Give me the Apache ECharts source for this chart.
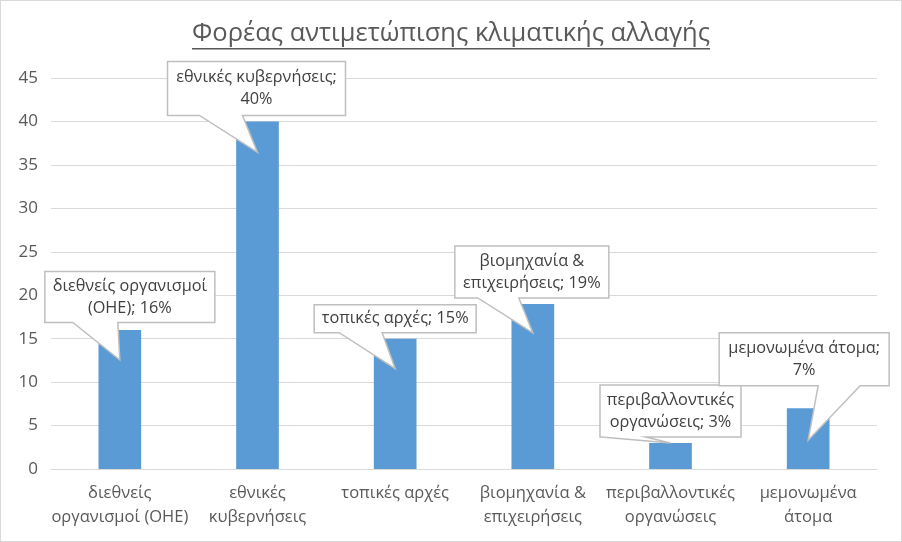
<!DOCTYPE html>
<html>
<head>
<meta charset="utf-8">
<script src="https://cdn.jsdelivr.net/npm/echarts@6/dist/echarts.min.js"></script>
<style>
html,body{margin:0;padding:0;background:#fff;}
#wrap{width:902px;height:542px;box-sizing:border-box;border:1px solid #d9d9d9;}
#chart{width:900px;height:540px;}
</style>
</head>
<body>
<div id="wrap"><div id="chart"></div></div>
<script>
const titleText = 'Φορέας αντιμετώπισης κλιματικής αλλαγής';
const categories = ['διεθνείς οργανισμοί (ΟΗΕ)', 'εθνικές κυβερνήσεις', 'τοπικές αρχές', 'βιομηχανία & επιχειρήσεις', 'περιβαλλοντικές οργανώσεις', 'μεμονωμένα άτομα'];
const axisLabels = ['διεθνείς\nοργανισμοί (ΟΗΕ)', 'εθνικές\nκυβερνήσεις', 'τοπικές αρχές', 'βιομηχανία &\nεπιχειρήσεις', 'περιβαλλοντικές\nοργανώσεις', 'μεμονωμένα\nάτομα'];
const values = [16, 40, 15, 19, 3, 7];
const calloutNames = ['διεθνείς οργανισμοί\n(ΟΗΕ)', 'εθνικές κυβερνήσεις', 'τοπικές αρχές', 'βιομηχανία &\nεπιχειρήσεις', 'περιβαλλοντικές\nοργανώσεις', 'μεμονωμένα άτομα'];
const calloutSeps = ['; ', ';\n', '; ', '; ', '; ', ';\n'];
const yTicks = {min: 0, max: 45, interval: 5};

// callout layout (pixel offsets from bar top): [dx, dy, w, h, base1, base2, tipDy]
const calloutLayout = [
  [10, -33, 170, 51, -47, -2, 30],
  [-1, -33, 178, 54, -58, -15, 31],
  [0, -20, 162, 28, -56, -13, 30],
  [-1, -32, 154, 52, -55, -14, 29],
  [0, -32, 141, 52, -69, -25, 0],
  [-4, -49, 170, 53, 10, 52, 32]
];

const FONT = '"Open Sans", "Noto Sans", sans-serif';
const chart = echarts.init(document.getElementById('chart'));

const cv = document.createElement('canvas').getContext('2d');
cv.font = '25.5px "Open Sans"';
const tw = cv.measureText(titleText).width;

chart.setOption({
  animation: false,
  title: {
    text: titleText,
    left: 'center',
    top: 15,
    textStyle: {fontFamily: FONT, fontSize: 25.5, fontWeight: 'normal', color: '#595959'}
  },
  graphic: [{
    type: 'rect',
    shape: {x: 450 - tw / 2, y: 47, width: tw, height: 1.5},
    style: {fill: '#595959'},
    silent: true
  }],
  grid: {left: 50, right: 24, top: 77, bottom: 72, containLabel: false},
  xAxis: {
    type: 'category',
    data: axisLabels,
    axisLine: {show: true, lineStyle: {color: '#d9d9d9', width: 1}},
    axisTick: {show: false},
    axisLabel: {color: '#595959', fontFamily: FONT, fontSize: 16.5, lineHeight: 24, margin: 12, interval: 0}
  },
  yAxis: {
    type: 'value',
    min: yTicks.min, max: yTicks.max, interval: yTicks.interval,
    axisLine: {show: false},
    axisTick: {show: false},
    splitLine: {lineStyle: {color: '#d9d9d9', width: 1}},
    axisLabel: {color: '#595959', fontFamily: FONT, fontSize: 17, margin: 13}
  },
  series: [{
    type: 'bar',
    data: values,
    barWidth: '31%',
    itemStyle: {color: '#5b9bd5'},
    z: 2
  }, {
    type: 'custom',
    data: values.map((v, i) => [i, v]),
    encode: {x: 0, y: 1},
    clip: false,
    z: 5,
    renderItem: function (params, api) {
      const i = params.dataIndex;
      const p = api.coord([api.value(0), api.value(1)]);
      const [dx, dy, w, h, b1, b2, td] = calloutLayout[i];
      const cx = p[0] + dx, cy = p[1] + dy;
      const L = cx - w / 2, R = cx + w / 2, T = cy - h / 2, B = cy + h / 2;
      return {
        type: 'group',
        children: [{
          type: 'polygon',
          shape: {points: [[L, T], [R, T], [R, B], [p[0] + b2, B], [p[0], p[1] + td], [p[0] + b1, B], [L, B]]},
          style: {fill: '#ffffff', stroke: '#bfbfbf', lineWidth: 1.5, lineJoin: 'miter'}
        }, {
          type: 'text',
          x: cx, y: cy,
          style: {
            text: calloutNames[i] + calloutSeps[i] + values[i] + '%',
            align: 'center', verticalAlign: 'middle',
            fontFamily: FONT, fontSize: 16.3, lineHeight: 22, fill: '#404040'
          }
        }]
      };
    }
  }]
});
</script>
</body>
</html>
